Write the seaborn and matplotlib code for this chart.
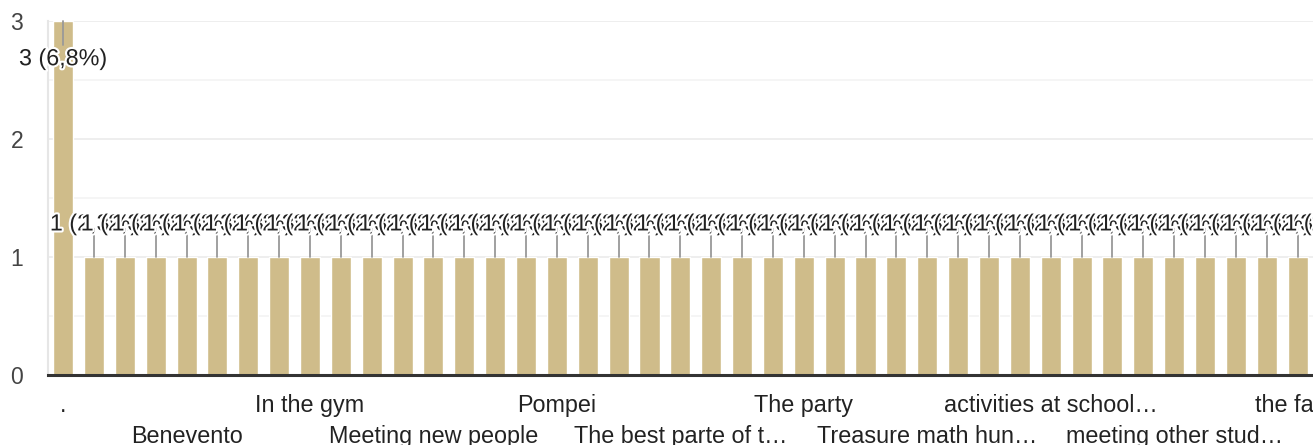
import matplotlib.pyplot as plt
import matplotlib.patheffects as pe
import seaborn as sns
import pandas as pd

# Response counts per answer, in the form's (alphabetical) order.
# The last bar sits just past the right edge of the picture.
counts = [3, 1, 1, 1, 1, 1, 1, 1, 1, 1,
          1, 1, 1, 1, 1, 1, 1, 1, 1, 1,
          1, 1, 1, 1, 1, 1, 1, 1, 1, 1,
          1, 1, 1, 1, 1, 1, 1, 1, 1, 1,
          1, 1]
total_responses = 44

# Only every fourth answer gets a visible axis label
tick_labels = [".", "Benevento", "In the gym", "Meeting new people", "Pompei",
               "The best parte of t\u2026", "The party", "Treasure math hun\u2026",
               "activities at school\u2026", "meeting other stud\u2026", "the farm"]
label_every = 4

bar_color = "#cfbc8a"

sns.set_theme(style="white")
plt.rcParams["font.family"] = ["Liberation Sans", "DejaVu Sans"]

df = pd.DataFrame({"answer": range(len(counts)), "count": counts})

fig = plt.figure(figsize=(13.13, 4.45), dpi=100)
ax = fig.add_axes([48 / 1313, 70 / 445, 1 - 48 / 1313, 354 / 445])

sns.barplot(data=df, x="answer", y="count", color=bar_color, width=0.65,
            saturation=1, ax=ax, zorder=2)

ax.set_ylim(0, 3)
ax.set_xlim(-0.49, 40.5)

# grid: major on integers, lighter on halves
ax.set_yticks([0, 1, 2, 3])
ax.set_yticks([0.5, 1.5, 2.5], minor=True)
ax.yaxis.grid(True, which="major", color="#ebebeb", linewidth=1.2, zorder=0)
ax.yaxis.grid(True, which="minor", color="#f4f4f4", linewidth=1.2, zorder=0)
ax.tick_params(axis="y", length=0, pad=18, labelsize=16.5, labelcolor="#444444")

ax.set_xticks(range(0, len(tick_labels) * label_every, label_every))
ax.set_xticklabels([("\n" + t) if i % 2 else t for i, t in enumerate(tick_labels)],
                   linespacing=1.42)
ax.tick_params(axis="x", length=0, pad=14, labelsize=16.8, labelcolor="#222222")

for side in ["top", "right"]:
    ax.spines[side].set_visible(False)
ax.spines["left"].set_color("#e6e6e6")
ax.spines["left"].set_linewidth(1.5)
ax.spines["bottom"].set_color("#333333")
ax.spines["bottom"].set_linewidth(2.2)
ax.spines["bottom"].set_zorder(5)
ax.set_xlabel("")
ax.set_ylabel("")

# value labels with leader lines, drawn in order so later ones cover earlier ones
halo = [pe.withStroke(linewidth=3, foreground="white")]
for i, c in enumerate(counts):
    pct = f"{100 * c / total_responses:.1f}".replace(".", ",")
    text = f"{c} ({pct}%)"
    if c >= 3:
        y0, y1, ty = c, c - 0.2, c - 0.32
    else:
        y0, y1, ty = c, c + 0.2, c + 0.28
    ax.plot([i, i], [y0, y1], color="#999999", linewidth=1.3, zorder=3,
            clip_on=False)
    ax.text(i, ty, text, ha="center", va="center", fontsize=16.8,
            color="#222222", path_effects=halo, zorder=4, clip_on=False)

fig.savefig("out.png", dpi=100)
plt.close(fig)
